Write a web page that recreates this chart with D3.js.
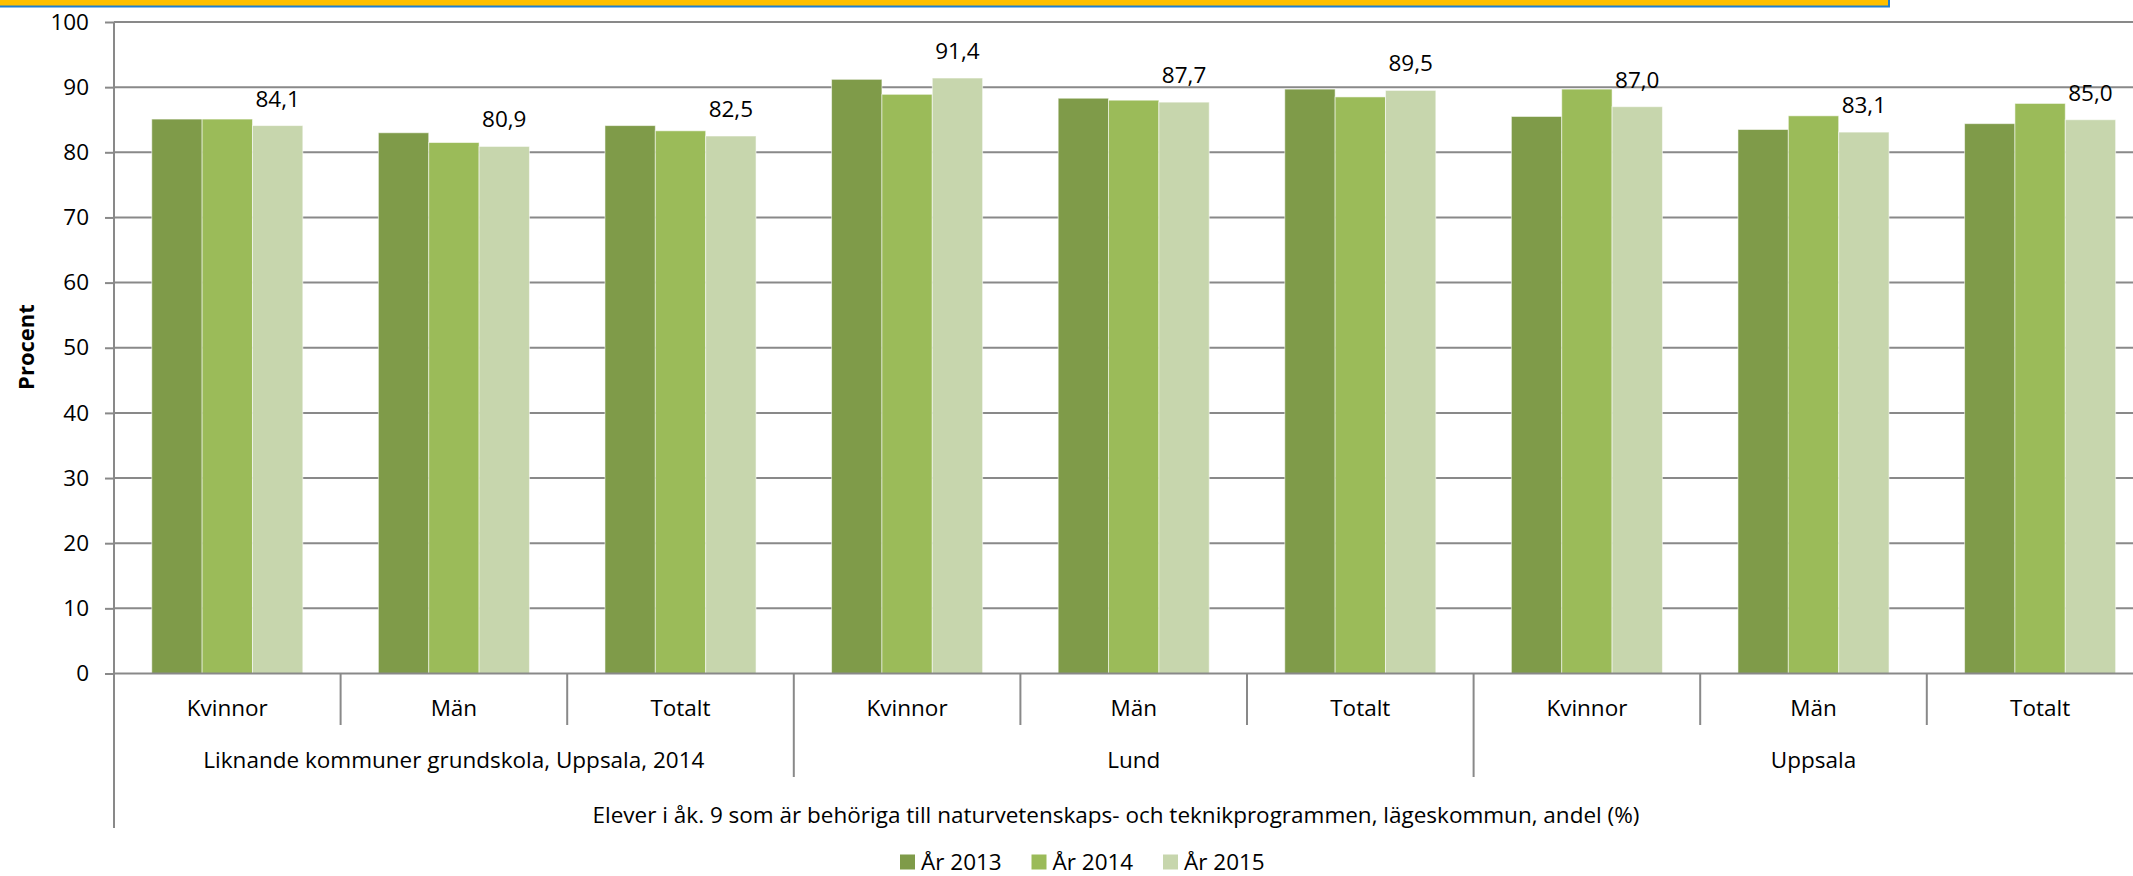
<!DOCTYPE html>
<html>
<head>
<meta charset="utf-8">
<script src="https://cdn.jsdelivr.net/npm/d3@7"></script>
<style>
  html, body { margin: 0; padding: 0; background: #fff; }
  svg { display: block; font-family: "Open Sans", sans-serif; }
</style>
</head>
<body>
<div id="chart"></div>
<script>
// chart data
const groups = ["Liknande kommuner grundskola, Uppsala, 2014", "Lund", "Uppsala"];
const subCategories = ["Kvinnor", "Män", "Totalt"];
const years = ["År 2013", "År 2014", "År 2015"];
const values2013 = [85.1, 83.0, 84.1, 91.2, 88.3, 89.7, 85.5, 83.5, 84.4];
const values2014 = [85.1, 81.5, 83.3, 88.9, 88.0, 88.5, 89.7, 85.6, 87.5];
const values2015 = [84.1, 80.9, 82.5, 91.4, 87.7, 89.5, 87.0, 83.1, 85.0];
const yTicks = [0, 10, 20, 30, 40, 50, 60, 70, 80, 90, 100];
const axisTitle = "Elever i åk. 9 som är behöriga till naturvetenskaps- och teknikprogrammen, lägeskommun, andel (%)";
const yTitle = "Procent";

const colors = ["#7f9b49", "#9bbb59", "#c7d6ad"];

const width = 2133, height = 876;
const plotLeft = 114, plotTop = 22, plotBottom = 673.5;
const catWidth = 226.6;
const fontSize = 22.5;

// one row per category
const rows = [];
groups.forEach((g, gi) => {
  subCategories.forEach((c, ci) => {
    const i = gi * subCategories.length + ci;
    rows.push({ i, group: g, cat: c, vals: [values2013[i], values2014[i], values2015[i]] });
  });
});

const svg = d3.select("#chart").append("svg")
  .attr("width", width)
  .attr("height", height);

// yellow banner at the top
svg.append("rect")
  .attr("x", -2).attr("y", -2)
  .attr("width", 1891).attr("height", 8.5)
  .attr("fill", "#ffc000")
  .attr("stroke", "#1f7fd0")
  .attr("stroke-width", 2);

const x0 = d3.scaleBand()
  .domain(d3.range(rows.length))
  .range([plotLeft, plotLeft + catWidth * rows.length])
  .paddingInner(0).paddingOuter(0);

const x1 = d3.scaleBand()
  .domain(d3.range(years.length))
  .range([0, x0.bandwidth()])
  .paddingInner(0).paddingOuter(0.75);

const y = d3.scaleLinear()
  .domain([0, 100])
  .range([plotBottom, plotTop]);

// gridlines
svg.append("g")
  .selectAll("line")
  .data(yTicks.filter(d => d > 0))
  .join("line")
    .attr("x1", plotLeft).attr("x2", width)
    .attr("y1", d => y(d)).attr("y2", d => y(d))
    .attr("stroke", "#898989")
    .attr("stroke-width", 2);

// bars
const cat = svg.append("g")
  .selectAll("g")
  .data(rows)
  .join("g")
    .attr("transform", d => `translate(${x0(d.i)},0)`);

cat.selectAll("rect")
  .data(d => d.vals.map((v, k) => ({ v, k })))
  .join("rect")
    .attr("x", d => x1(d.k))
    .attr("y", d => y(d.v))
    .attr("width", x1.bandwidth())
    .attr("height", d => y(0) - y(d.v))
    .attr("fill", d => colors[d.k])
    .attr("stroke", "rgba(255,255,255,0.55)")
    .attr("stroke-width", 1);

// data labels on the last year only
const fmt = v => d3.format(".1f")(v).replace(".", ",");
cat.append("text")
  .attr("x", d => x1(2) + x1.bandwidth() / 2)
  .attr("y", d => y(d.vals[2]) - 19)
  .attr("text-anchor", "middle")
  .attr("font-size", fontSize)
  .attr("fill", "#000")
  .text(d => fmt(d.vals[2]));

// y axis
const yAxis = svg.append("g")
  .attr("transform", `translate(${plotLeft},0)`)
  .call(d3.axisLeft(y).tickValues(yTicks).tickSize(9).tickPadding(16));
yAxis.selectAll("line").attr("stroke", "#898989").attr("stroke-width", 2);
yAxis.select(".domain").remove();
yAxis.selectAll("text")
  .attr("font-size", fontSize)
  .attr("font-family", "Open Sans, sans-serif")
  .attr("fill", "#000");

// left axis line (runs down past the category rows)
svg.append("line")
  .attr("x1", plotLeft).attr("x2", plotLeft)
  .attr("y1", plotTop).attr("y2", 828)
  .attr("stroke", "#898989").attr("stroke-width", 2);

// x axis baseline
svg.append("line")
  .attr("x1", plotLeft).attr("x2", width)
  .attr("y1", plotBottom).attr("y2", plotBottom)
  .attr("stroke", "#898989").attr("stroke-width", 2);

// category separators
svg.append("g")
  .selectAll("line")
  .data(d3.range(1, rows.length))
  .join("line")
    .attr("x1", d => x0(d)).attr("x2", d => x0(d))
    .attr("y1", plotBottom)
    .attr("y2", d => d % subCategories.length === 0 ? 777 : 725)
    .attr("stroke", "#898989").attr("stroke-width", 2);

// category labels
svg.append("g")
  .selectAll("text")
  .data(rows)
  .join("text")
    .attr("x", d => x0(d.i) + x0.bandwidth() / 2)
    .attr("y", 708)
    .attr("dy", "0.35em")
    .attr("text-anchor", "middle")
    .attr("font-size", fontSize)
    .text(d => d.cat);

// group labels
svg.append("g")
  .selectAll("text")
  .data(groups)
  .join("text")
    .attr("x", (d, gi) => x0(gi * 3) + x0.bandwidth() * 1.5)
    .attr("y", 760)
    .attr("dy", "0.35em")
    .attr("text-anchor", "middle")
    .attr("font-size", fontSize)
    .text(d => d);

// x axis title
svg.append("text")
  .attr("x", 1116)
  .attr("y", 815)
  .attr("dy", "0.35em")
  .attr("text-anchor", "middle")
  .attr("font-size", fontSize)
  .text(axisTitle);

// y axis title
svg.append("text")
  .attr("transform", "translate(26,347) rotate(-90)")
  .attr("dy", "0.35em")
  .attr("text-anchor", "middle")
  .attr("font-size", 22)
  .attr("font-weight", "bold")
  .text(yTitle);

// legend
const legend = svg.append("g")
  .selectAll("g")
  .data(years)
  .join("g")
    .attr("transform", (d, k) => `translate(${900 + k * 131.5},862)`);
legend.append("rect")
  .attr("x", 0).attr("y", -7.5)
  .attr("width", 15).attr("height", 15)
  .attr("fill", (d, k) => colors[k]);
legend.append("text")
  .attr("x", 21)
  .attr("dy", "0.35em")
  .attr("font-size", fontSize)
  .text(d => d);
</script>
</body>
</html>
